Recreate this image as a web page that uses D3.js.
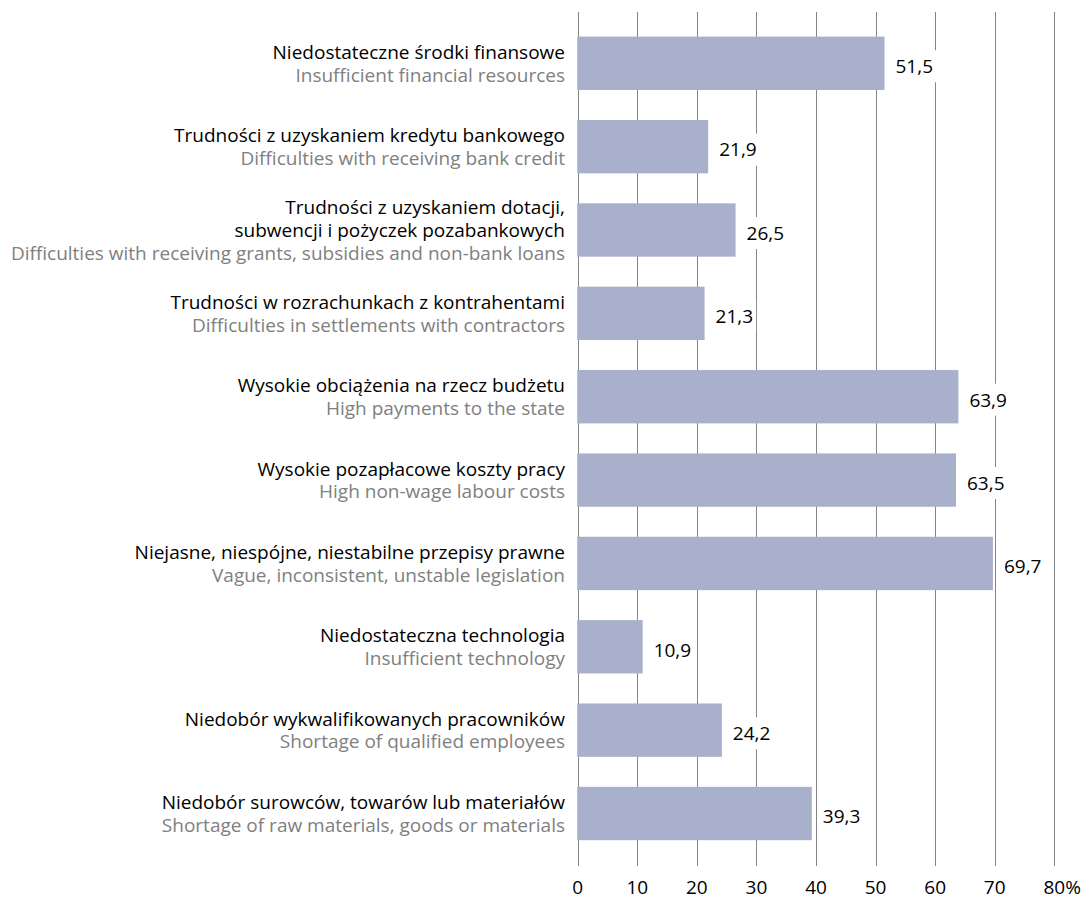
<!DOCTYPE html>
<html>
<head>
<meta charset="utf-8">
<script src="https://cdn.jsdelivr.net/npm/d3@7"></script>
<style>
  html, body { margin: 0; padding: 0; background: #fff; }
  svg { display: block; }
  text { font-family: "Open Sans", "Noto Sans", sans-serif; }
</style>
</head>
<body>
<svg id="chart" width="1082" height="900"></svg>
<script>
const labelsPl = [
  ["Niedostateczne środki finansowe"],
  ["Trudności z uzyskaniem kredytu bankowego"],
  ["Trudności z uzyskaniem dotacji,", "subwencji i pożyczek pozabankowych"],
  ["Trudności w rozrachunkach z kontrahentami"],
  ["Wysokie obciążenia na rzecz budżetu"],
  ["Wysokie pozapłacowe koszty pracy"],
  ["Niejasne, niespójne, niestabilne przepisy prawne"],
  ["Niedostateczna technologia"],
  ["Niedobór wykwalifikowanych pracowników"],
  ["Niedobór surowców, towarów lub materiałów"]
];
const labelsEn = [
  "Insufficient financial resources",
  "Difficulties with receiving bank credit",
  "Difficulties with receiving grants, subsidies and non-bank loans",
  "Difficulties in settlements with contractors",
  "High payments to the state",
  "High non-wage labour costs",
  "Vague, inconsistent, unstable legislation",
  "Insufficient technology",
  "Shortage of qualified employees",
  "Shortage of raw materials, goods or materials"
];
const values = [51.5, 21.9, 26.5, 21.3, 63.9, 63.5, 69.7, 10.9, 24.2, 39.3];
const tickValues = [0, 10, 20, 30, 40, 50, 60, 70, 80];
const tickLabels = ["0", "10", "20", "30", "40", "50", "60", "70", "80%"];

const svg = d3.select("#chart");
const fs = 19;
const lineH = 22.8;

const x = d3.scaleLinear().domain([0, 80]).range([577.7, 1054.3]);
const ids = d3.range(values.length);
const y = d3.scaleBand().domain(ids).range([21.6, 855.2]).paddingInner(0.36).paddingOuter(0.18);

// gridlines
svg.append("g").selectAll("line").data(tickValues).join("line")
  .attr("x1", d => Math.round(x(d)) + 0.5).attr("x2", d => Math.round(x(d)) + 0.5)
  .attr("y1", 12).attr("y2", 866)
  .attr("stroke", "#858585").attr("stroke-width", 1);

// tick labels
svg.append("g").selectAll("text").data(tickValues).join("text")
  .attr("x", d => x(d))
  .attr("y", 894)
  .attr("text-anchor", "middle")
  .attr("font-size", fs)
  .attr("fill", "#000")
  .each(function(d, i) {
    const t = d3.select(this);
    if (tickLabels[i].endsWith("%")) {
      // number stays centred on its gridline, the % sign hangs to the right
      t.text(String(d));
      t.attr("text-anchor", "start");
      const w = this.getComputedTextLength();
      t.attr("x", x(d) - w / 2);
      t.text(tickLabels[i]);
    } else {
      t.text(tickLabels[i]);
    }
  });

// bars
svg.append("g").selectAll("rect").data(values).join("rect")
  .attr("x", x(0) - 0.5)
  .attr("y", (d, i) => y(i))
  .attr("width", d => x(d) - x(0) + 0.5)
  .attr("height", y.bandwidth())
  .attr("fill", "#a9b0cc");

// value labels with white backing that interrupts the gridlines
const vg = svg.append("g");
values.forEach((d, i) => {
  const cy = y(i) + y.bandwidth() / 2 + 3;
  const g = vg.append("g");
  const bg = g.append("rect").attr("fill", "#fff");
  const t = g.append("text")
    .attr("x", x(d) + 11)
    .attr("y", cy)
    .attr("dy", "0.36em")
    .attr("font-size", fs)
    .attr("fill", "#000")
    .text(d3.format(".1f")(d).replace(".", ","));
  const w = t.node().getComputedTextLength();
  bg.attr("x", x(d) + 8).attr("y", cy - 16).attr("width", w + 6).attr("height", 32);
});

// category labels: one text element per category, lines as tspans
const lg = svg.append("g");
ids.forEach(i => {
  const lines = labelsPl[i].map(t => ({t, c: "#000"})).concat([{t: labelsEn[i], c: "#808080"}]);
  const cy = y(i) + y.bandwidth() / 2;
  const start = cy - (lines.length - 1) * lineH / 2;
  const txt = lg.append("text")
    .attr("text-anchor", "end")
    .attr("font-size", fs);
  lines.forEach((ln, k) => {
    txt.append("tspan")
      .attr("x", 565)
      .attr("y", start + k * lineH)
      .attr("dy", "0.36em")
      .attr("fill", ln.c)
      .text(ln.t);
  });
});
</script>
</body>
</html>
